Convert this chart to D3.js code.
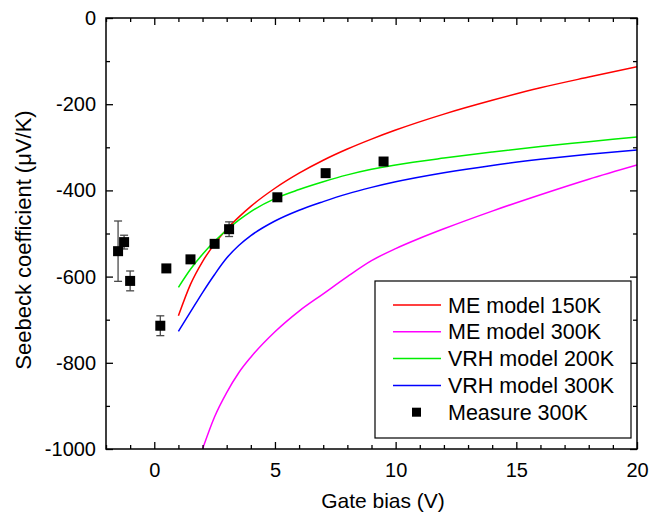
<!DOCTYPE html>
<html>
<head>
<meta charset="utf-8">
<script src="https://cdn.jsdelivr.net/npm/d3@7"></script>
<style>
  html, body { margin: 0; padding: 0; background: #fff; }
  svg { display: block; font-family: "Liberation Sans", Arial, sans-serif; }
</style>
</head>
<body>
<svg id="chart" width="652" height="519"></svg>
<script>
// Gate-bias dependence of the Seebeck coefficient: model curves and measurement
const xMajorTicks = [0, 5, 10, 15, 20];
const yMajorTicks = [0, -200, -400, -600, -800, -1000];

const meBias150 = [1, 1.5, 2, 2.5, 3, 3.5, 4, 5, 6, 7, 8, 9, 10, 12, 14, 16, 18, 20];
const meS150    = [-691, -618, -565, -524, -490, -462, -437, -395, -360, -330, -304, -281, -260, -223, -191, -162, -137, -113];

const meBias300 = [2, 2.5, 3, 3.5, 4, 5, 6, 7, 8, 9, 10, 11, 12, 14, 16, 18, 20];
const meS300    = [-1000, -925, -869, -823, -787, -728, -680, -640, -600, -563, -535, -511, -489, -448, -410, -374, -341];

const vrhBias200 = [1, 1.5, 2, 2.5, 3, 3.5, 4, 5, 6, 7, 8, 9, 10, 12, 14, 16, 18, 20];
const vrhS200    = [-625, -583, -548, -518, -492, -469, -449, -419, -398, -380, -364, -351, -341, -325, -311, -298, -287, -276];

const vrhBias300 = [1, 1.5, 2, 2.5, 3, 3.5, 4, 5, 6, 7, 8, 9, 10, 12, 14, 16, 18, 20];
const vrhS300    = [-727, -682, -637, -595, -557, -528, -505, -471, -446, -426, -408, -393, -380, -359, -342, -328, -316, -306];

const measBias = [-1.5, -1.25, -1.0, 0.25, 0.5, 1.5, 2.5, 3.1, 5.1, 7.1, 9.5];
const measS    = [-541, -520, -610, -714, -581, -560, -524, -490, -416, -360, -333];
const measErr  = [70, 16, 23, 23, 0, 0, 8, 17, 0, 0, 0];

const seriesNames  = ["ME model 150K", "ME model 300K", "VRH model 200K", "VRH model 300K", "Measure 300K"];
const seriesColors = ["#ff0000", "#ff00ff", "#00ee00", "#0000ff", "#000000"];

const curves = [
  { name: seriesNames[0], color: seriesColors[0], xs: meBias150, ys: meS150 },
  { name: seriesNames[1], color: seriesColors[1], xs: meBias300, ys: meS300 },
  { name: seriesNames[2], color: seriesColors[2], xs: vrhBias200, ys: vrhS200 },
  { name: seriesNames[3], color: seriesColors[3], xs: vrhBias300, ys: vrhS300 }
];

const margin = { left: 106, right: 15, top: 18, bottom: 70 };
const W = 652, H = 519;
const svg = d3.select("#chart");

const x = d3.scaleLinear().domain([-2, 20]).range([margin.left, W - margin.right]);
const y = d3.scaleLinear().domain([-1000, 0]).range([H - margin.bottom, margin.top]);

const x0 = x.range()[0], x1 = x.range()[1];
const y0 = y.range()[0], y1 = y.range()[1];

const xMinor = d3.range(-2, 20.001, 1).filter(v => !xMajorTicks.includes(v));
const yMinor = d3.range(-1000, 0.001, 100).filter(v => !yMajorTicks.includes(v));

svg.append("defs").append("clipPath").attr("id", "plotClip")
  .append("rect").attr("x", x0).attr("y", y1).attr("width", x1 - x0).attr("height", y0 - y1);

// Model curves
const line = d3.line().x(d => x(d[0])).y(d => y(d[1])).curve(d3.curveMonotoneX);
const curveG = svg.append("g").attr("clip-path", "url(#plotClip)");
curves.forEach(c => {
  curveG.append("path")
    .datum(c.xs.map((v, i) => [v, c.ys[i]]))
    .attr("d", line)
    .attr("fill", "none")
    .attr("stroke", c.color)
    .attr("stroke-width", 1.5);
});

// Measured points with error bars
const meas = measBias.map((v, i) => ({ v, s: measS[i], e: measErr[i] }));
const errG = svg.append("g").attr("stroke", "#4a4a4a").attr("stroke-width", 1.3);
meas.filter(d => d.e > 0).forEach(d => {
  const cx = x(d.v);
  errG.append("line").attr("x1", cx).attr("x2", cx).attr("y1", y(d.s - d.e)).attr("y2", y(d.s + d.e));
  errG.append("line").attr("x1", cx - 4).attr("x2", cx + 4).attr("y1", y(d.s - d.e)).attr("y2", y(d.s - d.e));
  errG.append("line").attr("x1", cx - 4).attr("x2", cx + 4).attr("y1", y(d.s + d.e)).attr("y2", y(d.s + d.e));
});
const sq = 10;
svg.append("g").selectAll("rect").data(meas).join("rect")
  .attr("x", d => x(d.v) - sq / 2)
  .attr("y", d => y(d.s) - sq / 2)
  .attr("width", sq).attr("height", sq)
  .attr("fill", "#000");

// Axes with inward ticks on all four sides
function styleAxis(g) {
  g.select(".domain").remove();
  g.selectAll(".tick line").attr("stroke", "#000").attr("stroke-width", 1.3);
  g.selectAll(".tick text").attr("font-size", 20).attr("fill", "#000")
    .attr("font-family", "'Liberation Sans', Arial, sans-serif");
}
const majorLen = 7, minorLen = 4;

svg.append("g").attr("transform", `translate(0,${y0})`)
  .call(d3.axisBottom(x).tickValues(xMajorTicks).tickSize(-majorLen).tickPadding(14).tickFormat(d3.format("d")))
  .call(styleAxis);
svg.append("g").attr("transform", `translate(0,${y0})`)
  .call(d3.axisBottom(x).tickValues(xMinor).tickSize(-minorLen).tickFormat(""))
  .call(styleAxis);
svg.append("g").attr("transform", `translate(0,${y1})`)
  .call(d3.axisTop(x).tickValues(xMajorTicks).tickSize(-majorLen).tickFormat(""))
  .call(styleAxis);
svg.append("g").attr("transform", `translate(0,${y1})`)
  .call(d3.axisTop(x).tickValues(xMinor).tickSize(-minorLen).tickFormat(""))
  .call(styleAxis);

const yFmt = v => (v < 0 ? "-" : "") + Math.abs(v);
svg.append("g").attr("transform", `translate(${x0},0)`)
  .call(d3.axisLeft(y).tickValues(yMajorTicks).tickSize(-majorLen).tickPadding(10).tickFormat(yFmt))
  .call(styleAxis);
svg.append("g").attr("transform", `translate(${x0},0)`)
  .call(d3.axisLeft(y).tickValues(yMinor).tickSize(-minorLen).tickFormat(""))
  .call(styleAxis);
svg.append("g").attr("transform", `translate(${x1},0)`)
  .call(d3.axisRight(y).tickValues(yMajorTicks).tickSize(-majorLen).tickFormat(""))
  .call(styleAxis);
svg.append("g").attr("transform", `translate(${x1},0)`)
  .call(d3.axisRight(y).tickValues(yMinor).tickSize(-minorLen).tickFormat(""))
  .call(styleAxis);

// Frame
svg.append("rect").attr("x", x0).attr("y", y1).attr("width", x1 - x0).attr("height", y0 - y1)
  .attr("fill", "none").attr("stroke", "#000").attr("stroke-width", 1.5);

// Axis titles
svg.append("text").attr("x", 383).attr("y", 508)
  .attr("text-anchor", "middle").attr("font-size", 21).text("Gate bias (V)");
svg.append("text").attr("transform", "translate(31,240) rotate(-90)")
  .attr("text-anchor", "middle").attr("font-size", 22).text("Seebeck coefficient (\u03BCV/K)");

// Legend
const lg = svg.append("g").attr("transform", "translate(375,281)");
lg.append("rect").attr("x", 0).attr("y", 0).attr("width", 256).attr("height", 157)
  .attr("fill", "#fff").attr("stroke", "#000").attr("stroke-width", 1.2);
seriesNames.forEach((name, i) => {
  const ry = 24 + i * 26.8;
  if (i < 4) {
    lg.append("line").attr("x1", 18).attr("x2", 66).attr("y1", ry).attr("y2", ry)
      .attr("stroke", seriesColors[i]).attr("stroke-width", 1.5);
  } else {
    lg.append("rect").attr("x", 37).attr("y", ry - 4.5).attr("width", 9).attr("height", 9).attr("fill", "#000");
  }
  lg.append("text").attr("x", 73).attr("y", ry + 7.5).attr("font-size", 21.5).attr("fill", "#000").text(name);
});
</script>
</body>
</html>
